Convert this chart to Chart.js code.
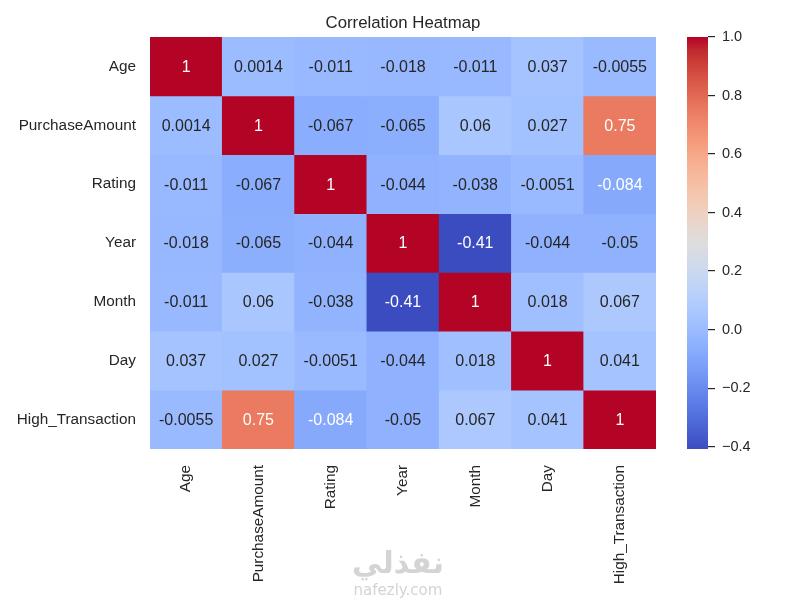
<!DOCTYPE html>
<html>
<head>
<meta charset="utf-8">
<script src="https://cdn.jsdelivr.net/npm/chart.js@4.4.1/dist/chart.umd.min.js"></script>
<style>
  body { margin: 0; background: #fff; }
  #wrap { position: relative; width: 800px; height: 600px; }
  #main { position: absolute; left: 0; top: 0; }
  #cbar { position: absolute; left: 660px; top: 0; }
  .wm { position: absolute; left: 298px; width: 200px; text-align: center; color: #d4d4d4; }
</style>
</head>
<body>
<div id="wrap">
  <canvas id="main" width="800" height="600"></canvas>
  <canvas id="cbar" width="140" height="600"></canvas>
  <div class="wm" style="top:545px; font: bold 30px 'DejaVu Sans';">نفذلي</div>
  <div class="wm" style="top:581px; font: 15px 'DejaVu Sans';">nafezly.com</div>
</div>
<script>
const labels = ["Age", "PurchaseAmount", "Rating", "Year", "Month", "Day", "High_Transaction"];

const ageRow      = [1, 0.0014, -0.011, -0.018, -0.011, 0.037, -0.0055];
const purchaseRow = [0.0014, 1, -0.067, -0.065, 0.06, 0.027, 0.75];
const ratingRow   = [-0.011, -0.067, 1, -0.044, -0.038, -0.0051, -0.084];
const yearRow     = [-0.018, -0.065, -0.044, 1, -0.41, -0.044, -0.05];
const monthRow    = [-0.011, 0.06, -0.038, -0.41, 1, 0.018, 0.067];
const dayRow      = [0.037, 0.027, -0.0051, -0.044, 0.018, 1, 0.041];
const highRow     = [-0.0055, 0.75, -0.084, -0.05, 0.067, 0.041, 1];

const cbarTicks = [-0.4, -0.2, 0.0, 0.2, 0.4, 0.6, 0.8, 1.0];

const corr = [ageRow, purchaseRow, ratingRow, yearRow, monthRow, dayRow, highRow];
const vmin = -0.408, vmax = 1;

// coolwarm, 33 samples
const cw = [
  [59,76,192],[68,90,204],[77,104,215],[87,117,225],[98,130,234],[108,142,241],
  [119,154,247],[130,165,251],[141,176,254],[152,185,255],[163,194,255],[174,201,253],
  [184,208,249],[194,213,244],[204,217,238],[213,219,230],[221,221,221],[229,216,209],
  [236,211,197],[241,204,184],[245,196,173],[247,187,160],[247,177,148],[247,166,135],
  [244,154,123],[241,141,111],[236,127,99],[229,112,88],[222,96,77],[213,80,66],
  [203,62,56],[192,40,47],[180,4,38]
];

function coolwarm(t) {
  t = Math.min(1, Math.max(0, t));
  const p = t * (cw.length - 1);
  const i = Math.min(cw.length - 2, Math.floor(p));
  const f = p - i;
  return cw[i].map((c, k) => Math.round(c + (cw[i + 1][k] - c) * f));
}

function cellRgb(v) { return coolwarm((v - vmin) / (vmax - vmin)); }

function luminance(rgb) {
  const lin = rgb.map(c => {
    c = c / 255;
    return c <= 0.03928 ? c / 12.92 : Math.pow((c + 0.055) / 1.055, 2.4);
  });
  return 0.2126 * lin[0] + 0.7152 * lin[1] + 0.0722 * lin[2];
}

function fmt(v) { return String(Number(v.toPrecision(2))); }

const FONT = "'Liberation Sans', Arial, sans-serif";
const INK = '#262626';

const datasets = corr.map((row, i) => ({
  label: labels[i],
  data: row.map(() => [i, i + 1]),
  backgroundColor: ctx => {
    const c = cellRgb(corr[i][ctx.dataIndex]);
    return `rgb(${c[0]},${c[1]},${c[2]})`;
  },
  borderWidth: 0,
  categoryPercentage: 1,
  barPercentage: 1
}));

const annotPlugin = {
  id: 'annot',
  afterDatasetsDraw(chart) {
    const ctx = chart.ctx;
    ctx.save();
    ctx.font = '16px ' + FONT;
    ctx.textAlign = 'center';
    ctx.textBaseline = 'middle';
    chart.data.datasets.forEach((ds, i) => {
      chart.getDatasetMeta(i).data.forEach((el, j) => {
        const v = corr[i][j];
        const p = el.getCenterPoint();
        ctx.fillStyle = luminance(cellRgb(v)) > 0.408 ? INK : '#ffffff';
        ctx.fillText(fmt(v), p.x, p.y + 1);
      });
    });
    ctx.restore();
  },
  afterDraw(chart) {
    const ctx = chart.ctx, a = chart.chartArea;
    ctx.save();
    ctx.font = '16.8px ' + FONT;
    ctx.fillStyle = INK;
    ctx.textAlign = 'center';
    ctx.textBaseline = 'middle';
    ctx.fillText('Correlation Heatmap', (a.left + a.right) / 2, 23);
    ctx.restore();
  }
};

new Chart(document.getElementById('main'), {
  type: 'bar',
  data: { labels: labels, datasets: datasets },
  plugins: [annotPlugin],
  options: {
    responsive: false,
    animation: false,
    layout: { padding: { top: 37, right: 144, left: 0, bottom: 0 } },
    plugins: { legend: { display: false }, title: { display: false }, tooltip: { enabled: false } },
    scales: {
      x: {
        stacked: true,
        grid: { display: false },
        border: { display: false },
        ticks: { color: INK, font: { family: FONT, size: 15.3 }, minRotation: 90, maxRotation: 90, padding: 8, autoSkip: false },
        afterFit: s => { s.height = 151; }
      },
      y: {
        type: 'linear',
        min: 0, max: 7,
        reverse: true,
        grid: { display: false },
        border: { display: false },
        afterBuildTicks: s => { s.ticks = labels.map((l, i) => ({ value: i + 0.5 })); },
        ticks: {
          color: INK, font: { family: FONT, size: 15.3 }, padding: 6,
          callback: v => labels[Math.floor(v)]
        },
        afterFit: s => { s.width = 150; }
      }
    }
  }
});

new Chart(document.getElementById('cbar'), {
  type: 'bar',
  data: {
    labels: [''],
    datasets: [{
      data: [[vmin, vmax]],
      borderWidth: 0,
      categoryPercentage: 1,
      barPercentage: 1,
      backgroundColor: ctx => {
        const a = ctx.chart.chartArea;
        if (!a) return '#ddd';
        const g = ctx.chart.ctx.createLinearGradient(0, a.bottom, 0, a.top);
        cw.forEach((c, k) => g.addColorStop(k / (cw.length - 1), `rgb(${c[0]},${c[1]},${c[2]})`));
        return g;
      }
    }]
  },
  options: {
    responsive: false,
    animation: false,
    layout: { padding: { top: 37, left: 27, right: 0, bottom: 151 } },
    plugins: { legend: { display: false }, tooltip: { enabled: false } },
    scales: {
      x: { display: false },
      y: {
        position: 'right',
        min: vmin, max: vmax,
        grid: { display: true, drawOnChartArea: false, drawTicks: true, tickLength: 7, color: INK, lineWidth: 1.2 },
        border: { display: false },
        afterBuildTicks: s => { s.ticks = cbarTicks.map(v => ({ value: v })); },
        ticks: {
          color: INK, font: { family: FONT, size: 14.5 }, padding: 7,
          callback: v => (v < 0 ? '\u2212' : '') + Math.abs(v).toFixed(1)
        },
        afterFit: s => { s.width = 92; }
      }
    }
  }
});
</script>
</body>
</html>
